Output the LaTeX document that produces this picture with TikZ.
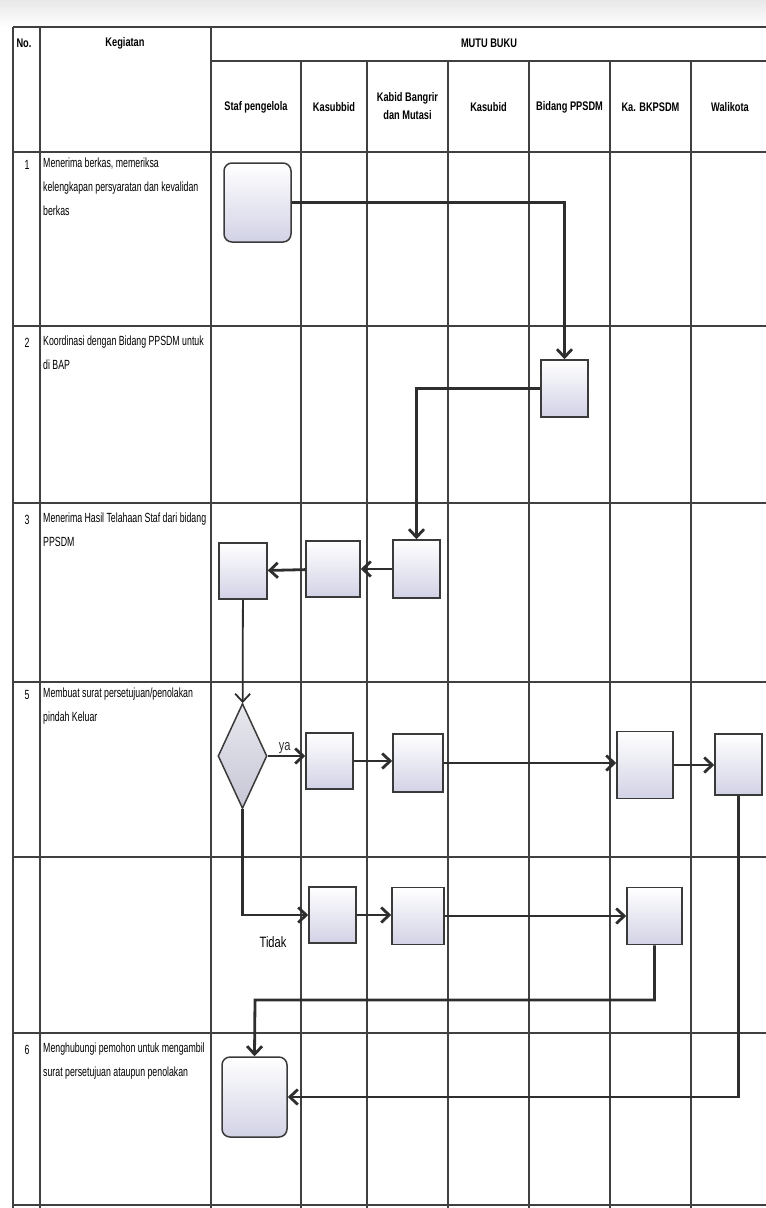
\documentclass[tikz,border=0pt]{standalone}
\usepackage{fontspec}
\setmainfont{Liberation Sans}[FakeStretch=0.74]
\newfontfamily\rowfont{Liberation Sans}[FakeStretch=0.66]
\usetikzlibrary{arrows.meta,positioning,shapes.geometric}
\definecolor{gridline}{HTML}{404040}
\definecolor{flowline}{HTML}{2E2E2E}
\definecolor{boxedge}{HTML}{3A3A3A}
\definecolor{boxfill}{HTML}{D2D2E6}
\definecolor{decfill}{HTML}{C6C6D6}
\definecolor{scanshade}{HTML}{E8E8E8}

\begin{document}
\begin{tikzpicture}[
  x=1pt, y=-1pt,
  >={Straight Barb[length=8pt,width=15pt]},
  lane/.style={gridline, line width=1.4pt},
  rowsep/.style={gridline, line width=2.2pt},
  head/.style={font=\bfseries\fontsize{12.5}{18}\selectfont, align=center, inner sep=0pt},
  num/.style={font=\rowfont\fontsize{13.3}{24}\selectfont, inner sep=0pt},
  act/.style={font=\rowfont\fontsize{13.3}{24}\selectfont, align=left, anchor=north west, inner sep=0pt},
  task/.style={draw=boxedge, line width=1.5pt, top color=white, bottom color=boxfill, inner sep=0pt},
  term/.style={task, rounded corners=8pt},
  decide/.style={diamond, draw=boxedge, line width=1.5pt, top color=decfill!40, bottom color=decfill, inner sep=0pt},
  flow/.style={flowline, line width=2.8pt, ->},
  lbl/.style={font=\fontsize{15}{17}\selectfont, inner sep=1pt}
]
  \useasboundingbox (0,0) rectangle (766,1208);
  \shade[top color=scanshade, bottom color=white] (0,0) rectangle (766,27);

  % table grid
  \foreach \x in {13,40,211}
    \draw[lane] (\x,27) -- (\x,1208);
  \foreach \x in {301,367,448,529,610,691}
    \draw[lane] (\x,61) -- (\x,1208);
  \draw[rowsep] (13,27) -- (766,27);
  \draw[rowsep] (211,61) -- (766,61);
  \foreach \y in {152,326,503,682,857,1033,1205}
    \draw[rowsep] (13,\y) -- (766,\y);

  % headers
  \node[head] (no) at (24,43) {No.};
  \node[head] (keg) at (125,43) {Kegiatan};
  \node[head] (mutu) at (489,43) {MUTU BUKU};
  \node[head] (staf) at (256,107) {Staf pengelola};
  \node[head] (kasubbid) at (334,107) {Kasubbid};
  \node[head] (kabid) at (407.5,106) {Kabid Bangrir\\dan Mutasi};
  \node[head] (kasubid) at (488.5,107) {Kasubid};
  \node[head] (bidang) at (569.5,107) {Bidang PPSDM};
  \node[head] (kepala) at (650.5,107) {Ka. BKPSDM};
  \node[head] (walikota) at (730,107) {Walikota};

  % activities
  \node[num] (n1) at (27,165) {1};
  \node[act] (a1) at (43,158) {Menerima berkas, memeriksa\\kelengkapan persyaratan dan kevalidan\\berkas};
  \node[num] (n2) at (27,343) {2};
  \node[act] (a2) at (43,336) {Koordinasi dengan Bidang PPSDM untuk\\di BAP};
  \node[num] (n3) at (27,520) {3};
  \node[act] (a3) at (43,513) {Menerima Hasil Telahaan Staf dari bidang\\PPSDM};
  \node[num] (n5) at (27,695) {5};
  \node[act] (a5) at (43,688) {Membuat surat persetujuan/penolakan\\pindah Keluar};
  \node[num] (n6) at (27,1050) {6};
  \node[act] (a6) at (43,1043) {Menghubungi pemohon untuk mengambil\\surat persetujuan ataupun penolakan};

  % flow
  \node[term, minimum width=67, minimum height=79] (start) at (257.5,202.5) {};
  \node[task, minimum width=47, minimum height=57] (bap) at (564.5,388.5) {};
  \node[task, minimum width=47, minimum height=58] (telaah) at (416.5,569) {};
  \node[task, minimum width=54, minimum height=56] (kasubTl) at (333,569) {};
  \node[task, minimum width=48, minimum height=56] (stafTl) at (243,571) {};
  \node[decide, minimum width=49, minimum height=105] (dec) at (242.5,756) {};
  \node[task, minimum width=47, minimum height=56] (ya1) at (329.5,761) {};
  \node[task, minimum width=50, minimum height=58] (ya2) at (418,763) {};
  \node[task, minimum width=56, minimum height=67] (ya3) at (645,765) {};
  \node[task, minimum width=47, minimum height=61] (ya4) at (738.5,764.5) {};
  \node[task, minimum width=47, minimum height=56] (tdk1) at (332.5,915) {};
  \node[task, minimum width=52, minimum height=57] (tdk2) at (418,916) {};
  \node[task, minimum width=55, minimum height=57] (tdk3) at (654.5,916) {};
  \node[term, minimum width=65, minimum height=80] (selesai) at (254.5,1097) {};
  \coordinate (balik) at (255,1000);

  \draw[flow] (start.east) -| (bap.north);
  \draw[flow] (bap.west) -| (telaah.north);
  \draw[flow] (telaah) -- (kasubTl);
  \draw[flow] (kasubTl) -- (stafTl);
  \draw[flow, line width=1.8pt] (stafTl) -- (dec);
  \draw[flow] (dec.east) -- node[lbl, above, pos=0.45] (ya) {ya} (dec.east -| ya1.west);
  \draw[flow] (ya1.east) -- (ya1.east -| ya2.west);
  \draw[flow] (ya2.east) -- (ya2.east -| ya3.west);
  \draw[flow] (ya3.east) -- (ya3.east -| ya4.west);
  \draw[flow] (ya4.south) |- (selesai.east);
  \draw[flow] (dec.south) |- (tdk1.west);
  \node[lbl] (tidak) at (273,942) {Tidak};
  \draw[flow] (tdk1.east) -- (tdk1.east -| tdk2.west);
  \draw[flow] (tdk2.east) -- (tdk2.east -| tdk3.west);
  \draw[flow] (tdk3.south) |- (balik) -- (selesai.north);
\end{tikzpicture}
\end{document}
